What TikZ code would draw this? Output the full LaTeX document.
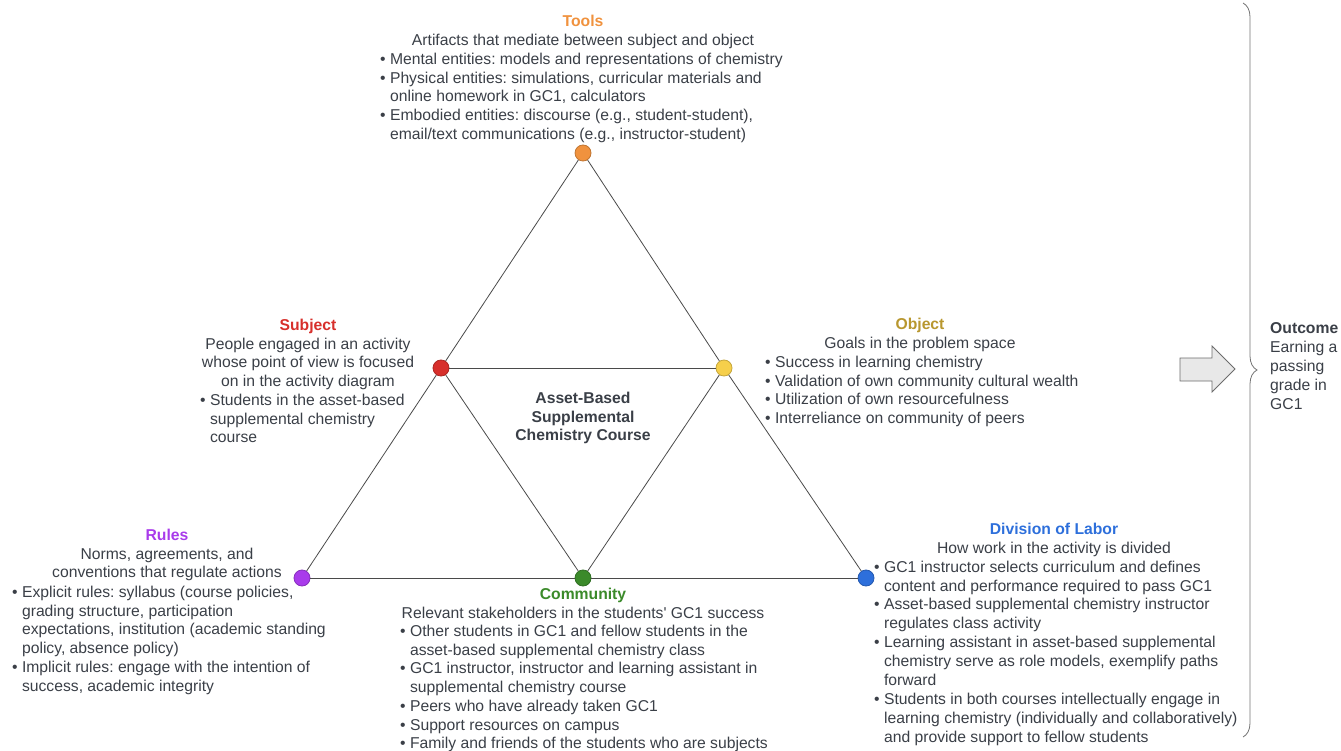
\documentclass[tikz,border=0pt]{standalone}
\usepackage{fontspec}
\setmainfont{Liberation Sans}
\usetikzlibrary{decorations.pathreplacing}

\definecolor{txt}{HTML}{3A3F47}
\definecolor{edge}{HTML}{4A4A4A}
\definecolor{toolsc}{HTML}{F0923E}
\definecolor{subjc}{HTML}{D72F2B}
\definecolor{objc}{HTML}{F6CF4B}
\definecolor{objt}{HTML}{B8972F}
\definecolor{rulesc}{HTML}{A93BEB}
\definecolor{commc}{HTML}{3B8A2A}
\definecolor{divc}{HTML}{2D6FDB}

\newcommand{\itm}{\textbullet\ }
\newcommand{\cnt}{\phantom{\textbullet\ }}
\frenchspacing

\begin{document}
\begin{tikzpicture}[
  x=1pt, y=-1pt,
  font=\fontsize{15.7}{18.95}\selectfont,
  dot/.style={circle, draw=#1!80!black, fill=#1, line width=0.8pt, minimum size=16pt, inner sep=0pt},
  head/.style={anchor=north, align=center, inner sep=0pt, text=txt},
  items/.style={anchor=north west, align=left, inner sep=0pt, text=txt},
  link/.style={draw=edge, line width=0.8pt}
]
\useasboundingbox (0,0) rectangle (1341,751);

% the six corners of the triangle
\node[dot=toolsc] (tools) at (583,153) {};
\node[dot=subjc] (subject) at (441,368) {};
\node[dot=objc] (object) at (724,368) {};
\node[dot=rulesc] (rules) at (302,578) {};
\node[dot=commc] (community) at (583,578) {};
\node[dot=divc] (division) at (866,578) {};

\draw[link] (tools) -- (subject);
\draw[link] (subject) -- (rules);
\draw[link] (tools) -- (object);
\draw[link] (object) -- (division);
\draw[link] (subject) -- (object);
\draw[link] (rules) -- (community);
\draw[link] (community) -- (division);
\draw[link] (subject) -- (community);
\draw[link] (object) -- (community);

\node[head, font=\fontsize{15.7}{18.95}\selectfont\bfseries] (course) at (583,391.5) {Asset-Based\\Supplemental\\Chemistry Course};

% Tools
\node[head] (toolshead) at (583,14.5) {{\bfseries\color{toolsc}Tools}\\Artifacts that mediate between subject and object};
\node[items] (toolsitems) at (380,52.5) {\itm Mental entities: models and representations of chemistry\\
\itm Physical entities: simulations, curricular materials and\\
\cnt online homework in GC1, calculators\\
\itm Embodied entities: discourse (e.g., student-student),\\
\cnt email/text communications (e.g., instructor-student)};

% Subject
\node[head] (subjhead) at (308,318.5) {{\bfseries\color{subjc}Subject}\\People engaged in an activity\\whose point of view is focused\\on in the activity diagram};
\node[items] (subjitems) at (200,393.5) {\itm Students in the asset-based\\
\cnt supplemental chemistry\\
\cnt course};

% Object
\node[head] (objhead) at (920,317.5) {{\bfseries\color{objt}Object}\\Goals in the problem space};
\node[items] (objitems) at (765,355.5) {\itm Success in learning chemistry\\
\itm Validation of own community cultural wealth\\
\itm Utilization of own resourcefulness\\
\itm Interreliance on community of peers};

% Rules
\node[head] (ruleshead) at (167,528.5) {{\bfseries\color{rulesc}Rules}\\Norms, agreements, and\\conventions that regulate actions};
\node[items] (rulesitems) at (12,585.5) {\itm Explicit rules: syllabus (course policies,\\
\cnt grading structure, participation\\
\cnt expectations, institution (academic standing\\
\cnt policy, absence policy)\\
\itm Implicit rules: engage with the intention of\\
\cnt success, academic integrity};

% Community
\node[head] (commhead) at (583,587.5) {{\bfseries\color{commc}Community}\\Relevant stakeholders in the students\textquotesingle\ GC1 success};
\node[items, font=\fontsize{15.7}{18.7}\selectfont] (commitems) at (400,625) {\itm Other students in GC1 and fellow students in the\\
\cnt asset-based supplemental chemistry class\\
\itm GC1 instructor, instructor and learning assistant in\\
\cnt supplemental chemistry course\\
\itm Peers who have already taken GC1\\
\itm Support resources on campus\\
\itm Family and friends of the students who are subjects};

% Division of Labor
\node[head] (divhead) at (1054,522.5) {{\bfseries\color{divc}Division of Labor}\\How work in the activity is divided};
\node[items] (divitems) at (874,560.5) {\itm GC1 instructor selects curriculum and defines\\
\cnt content and performance required to pass GC1\\
\itm Asset-based supplemental chemistry instructor\\
\cnt regulates class activity\\
\itm Learning assistant in asset-based supplemental\\
\cnt chemistry serve as role models, exemplify paths\\
\cnt forward\\
\itm Students in both courses intellectually engage in\\
\cnt learning chemistry (individually and collaboratively)\\
\cnt and provide support to fellow students};

% Outcome
\draw[draw=gray!85!black, fill=gray!18, line width=0.8pt] (1180,358) -- (1212,358) -- (1212,346) -- (1235,369) -- (1212,392) -- (1212,381) -- (1180,381) -- cycle;
\draw[draw=gray!90!black, line width=0.8pt, decorate, decoration={brace, amplitude=14pt}] (1243,3) -- (1243,737);
\node[items] (outcome) at (1270,322.5) {{\bfseries Outcome}\\Earning a\\passing\\grade in\\GC1};
\end{tikzpicture}
\end{document}
